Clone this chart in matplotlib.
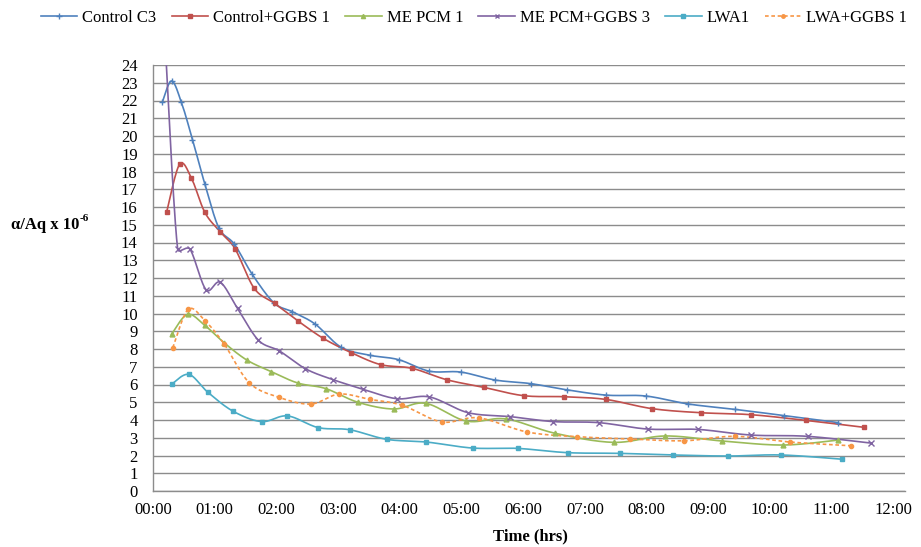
import numpy as np
import matplotlib
matplotlib.use("Agg")
import matplotlib.pyplot as plt
from matplotlib.lines import Line2D

plt.rcParams['font.family'] = ['Liberation Serif', 'DejaVu Serif']

# ---- data (time in hours, value alpha/Aq x 1e-6) ----
c3_t = [0.15, 0.30, 0.46, 0.64, 0.84, 1.07, 1.32, 1.61, 1.96, 2.26, 2.63, 3.05, 3.51, 3.98,
        4.48, 4.99, 5.55, 6.12, 6.71, 7.35, 7.99, 8.68, 9.43, 10.23, 11.11]
c3_v = [21.9, 23.1, 21.9, 19.8, 17.3, 14.8, 13.9, 12.2, 10.6, 10.1, 9.4, 8.1, 7.65, 7.4,
        6.75, 6.7, 6.25, 6.05, 5.7, 5.4, 5.35, 4.9, 4.6, 4.25, 3.85]

cg_t = [0.22, 0.43, 0.62, 0.84, 1.09, 1.33, 1.64, 1.97, 2.35, 2.76, 3.21, 3.69, 4.20, 4.76,
        5.36, 6.01, 6.67, 7.34, 8.09, 8.88, 9.69, 10.58, 11.52]
cg_v = [15.7, 18.4, 17.65, 15.7, 14.6, 13.65, 11.42, 10.57, 9.58, 8.6, 7.8, 7.12, 6.91, 6.27,
        5.84, 5.37, 5.31, 5.16, 4.64, 4.41, 4.30, 3.98, 3.59]

me_t = [0.30, 0.56, 0.84, 1.15, 1.52, 1.92, 2.35, 2.80, 3.32, 3.90, 4.42, 5.08, 5.72, 6.52,
        7.47, 8.30, 9.22, 10.21, 11.11]
me_v = [8.83, 9.95, 9.33, 8.36, 7.38, 6.72, 6.08, 5.77, 5.0, 4.62, 4.94, 3.94, 4.06, 3.25,
        2.74, 3.10, 2.82, 2.59, 2.87]

mg_t = [0.19, 0.40, 0.60, 0.86, 1.09, 1.37, 1.71, 2.05, 2.47, 2.92, 3.41, 3.95, 4.48, 5.11,
        5.79, 6.49, 7.23, 8.02, 8.83, 9.70, 10.61, 11.64]
mg_v = [25.7, 13.62, 13.62, 11.34, 11.76, 10.29, 8.49, 7.89, 6.89, 6.27, 5.73, 5.2, 5.3, 4.41,
        4.19, 3.91, 3.85, 3.49, 3.47, 3.15, 3.08, 2.70]

lw_t = [0.30, 0.58, 0.89, 1.30, 1.76, 2.18, 2.68, 3.19, 3.79, 4.43, 5.18, 5.91, 6.72, 7.57,
        8.43, 9.32, 10.18, 11.17]
lw_v = [6.01, 6.57, 5.56, 4.49, 3.91, 4.23, 3.57, 3.45, 2.91, 2.76, 2.42, 2.40, 2.16, 2.12,
        2.03, 1.97, 2.03, 1.79]

lg_t = [0.32, 0.57, 0.84, 1.15, 1.56, 2.04, 2.56, 3.02, 3.52, 4.04, 4.68, 5.28, 6.07, 6.87,
        7.74, 8.61, 9.43, 10.32, 11.31]
lg_v = [8.07, 10.23, 9.6, 8.3, 6.1, 5.28, 4.9, 5.46, 5.16, 4.83, 3.89, 4.12, 3.32, 3.06,
        2.93, 2.83, 3.08, 2.76, 2.55]

labels = ["Control C3", "Control+GGBS 1", "ME PCM 1", "ME PCM+GGBS 3", "LWA1", "LWA+GGBS 1"]
x_ticks = [0, 1, 2, 3, 4, 5, 6, 7, 8, 9, 10, 11, 12]
x_tick_labels = ["00:00", "01:00", "02:00", "03:00", "04:00", "05:00", "06:00",
                 "07:00", "08:00", "09:00", "10:00", "11:00", "12:00"]
y_ticks = list(range(0, 25))

series = [(c3_t, c3_v), (cg_t, cg_v), (me_t, me_v), (mg_t, mg_v), (lw_t, lw_v), (lg_t, lg_v)]
colors = ["#4F81BD", "#C0504D", "#9BBB59", "#8064A2", "#4BACC6", "#F79646"]
markers = ["+", "s", "^", "x", "s", "o"]
msizes = [4.5, 3.5, 3.5, 4.0, 3.0, 3.0]
styles = ["-", "-", "-", "-", "-", (0, (2.2, 1.6))]

SX, SY = 61.7, 17.75  # approx pixels per unit, used only for smoothing geometry


def smooth(t, v, n=24, cap=0.45):
    p = np.column_stack([np.asarray(t) * SX, np.asarray(v) * SY]).astype(float)
    out = []
    m = len(p)
    for i in range(m - 1):
        p0 = p[i]
        p3 = p[i + 1]
        prev = p[i - 1] if i > 0 else p[i]
        nxt = p[i + 2] if i + 2 < m else p[i + 1]
        seglen = np.linalg.norm(p3 - p0)
        d1 = (p3 - prev) / 6.0
        d2 = (nxt - p0) / 6.0
        for d in (d1, d2):
            L = np.linalg.norm(d)
            if L > cap * seglen and L > 0:
                d *= cap * seglen / L
        c1 = p0 + d1
        c2 = p3 - d2
        s = np.linspace(0, 1, n, endpoint=(i == m - 2))[:, None]
        seg = ((1 - s) ** 3) * p0 + 3 * ((1 - s) ** 2) * s * c1 + 3 * (1 - s) * s ** 2 * c2 + s ** 3 * p3
        out.append(seg)
    out = np.vstack(out)
    return out[:, 0] / SX, out[:, 1] / SY


W, H = 921, 547
fig = plt.figure(figsize=(W / 100, H / 100), dpi=100)
ax = fig.add_axes([153 / W, 1 - 491 / H, (905 - 153) / W, (491 - 65) / H])

handles = []
for (t, v), c, mk, ms, ls, lab in zip(series, colors, markers, msizes, styles, labels):
    sx, sy = smooth(t, v)
    ax.plot(sx, sy, color=c, lw=1.2, ls=ls, zorder=3)
    ax.plot(t, v, ls='none', marker=mk, ms=ms, color=c, mec=c, mew=1.0, zorder=4)
    handles.append(Line2D([], [], color=c, lw=1.2, ls=ls, marker=mk, ms=ms - 0.5, mec=c, mew=1.0))

ax.set_xlim(0, 12.19)
ax.set_ylim(0, 24)
ax.set_xticks(x_ticks)
ax.set_xticklabels(x_tick_labels)
ax.set_yticks(y_ticks)
ax.grid(axis='y', color='#8C8C8C', lw=1.0)
ax.set_axisbelow(True)
for s in ['top', 'right']:
    ax.spines[s].set_visible(False)
for s in ['left', 'bottom']:
    ax.spines[s].set_color('#8C8C8C')
    ax.spines[s].set_linewidth(1.0)
ax.tick_params(axis='both', length=0, labelsize=12)
ax.tick_params(axis='y', pad=11)
ax.tick_params(axis='x', pad=8)

fig.text(530 / W, 1 - 536 / H, "Time (hrs)", ha='center', va='center', fontsize=12, fontweight='bold')
ylab = fig.text(11 / W, 1 - 225 / H, "α/Aq x 10", ha='left', va='center',
                fontsize=12, fontweight='bold')
ax.annotate("-6", xy=(1.0, 0.62), xycoords=ylab, ha='left', va='bottom',
            fontsize=8, fontweight='bold', annotation_clip=False)

fig.legend(handles, labels, loc='center', bbox_to_anchor=(474 / W, 1 - 18 / H), ncol=6,
           frameon=False, fontsize=12, handlelength=2.2, handletextpad=0.3, columnspacing=0.9,
           borderaxespad=0, borderpad=0)

fig.savefig("out.png", dpi=100)
